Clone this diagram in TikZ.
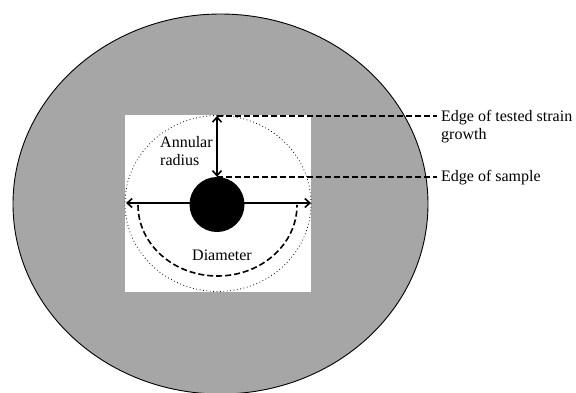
\documentclass[tikz,border=0pt]{standalone}
\usepackage{fontspec}
\setmainfont{Liberation Serif}
\usetikzlibrary{arrows.meta, positioning}

\begin{document}
\begin{tikzpicture}[
	x=1pt, y=-1pt,
	every node/.style={font=\fontsize{16}{18}\selectfont, inner sep=0pt},
	label text/.style={align=left, anchor=west},
	measure/.style={draw, line width=1.6pt, {Straight Barb[length=5pt, width=9pt]}-{Straight Barb[length=5pt, width=9pt]}},
	edge line/.style={draw, line width=1.6pt, dash pattern=on 6pt off 3pt, shorten >=4pt},
	]
	
	\clip (0,0) rectangle (576,392);
	\fill[white] (0,0) rectangle (576,392);
	
	% plate and sample area
	\draw[fill=black!35, line width=0.9pt] (220.5,204) ellipse [x radius=207.5, y radius=190];
	\fill[white] (125,115) rectangle (311,292);
	\draw[line width=0.8pt, dash pattern=on 0.8pt off 2.6pt] (218,203.5) ellipse [x radius=93, y radius=88];
	
	\coordinate (ringtop) at (217,116);
	\coordinate (ringleft) at (126,203);
	\coordinate (ringright) at (311,203);
	\coordinate (arcstart) at (138,205);
	
	\draw[measure] (ringleft) -- (ringright);
	\node[circle, fill=black, minimum size=55pt] (sample) at (217,204.5) {};
	\draw[measure] (ringtop) -- (sample.north);
	\draw[line width=1.6pt, dash pattern=on 6pt off 3pt] (arcstart) arc [start angle=180, end angle=0, x radius=79.5, y radius=71];
	
	% labels
	\node[label text] (radiuslbl) at (160,151) {Annular\\radius};
	\node (diamlbl) at (222,255.5) {Diameter};
	\node[label text] (strainlbl) at (441,127) {Edge of tested strain\\growth};
	\node[label text] (samplelbl) at (441,178) {Edge of sample};
	
	\draw[edge line] (ringtop) -- (ringtop -| strainlbl.west);
	\draw[edge line] (sample.north) -- (sample.north -| samplelbl.west);
	
\end{tikzpicture}
\end{document}
